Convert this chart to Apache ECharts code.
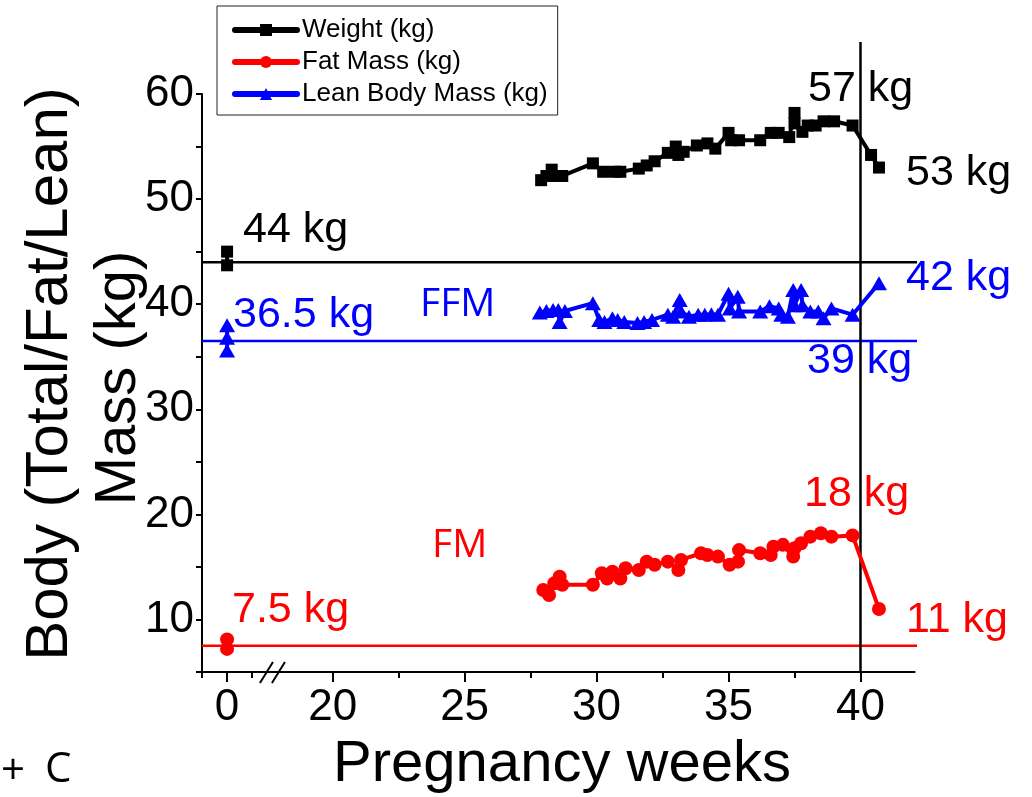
<!DOCTYPE html>
<html>
<head>
<meta charset="utf-8">
<title>Body mass during pregnancy</title>
<script src="https://cdn.jsdelivr.net/npm/echarts@6/dist/echarts.min.js"></script>
<style>
  html, body { margin: 0; padding: 0; background: #fff; }
  #chart { width: 1032px; height: 797px; }
</style>
</head>
<body>
<div id="chart"></div>
<script>
// ---- Data -------------------------------------------------------------
// Pre-pregnancy readings (week 0)
const weightWeek0 = [45.0, 43.7];
const fatWeek0 = [8.1, 7.2];
const leanWeek0 = [38.0, 36.8, 35.6];

// Pregnancy readings: Weight (kg)
const weightWeeks = [27.9, 28.1, 28.3, 28.5, 28.7, 29.86, 30.25, 30.7, 30.9, 31.6, 31.9, 32.2, 32.7, 33.0, 33.1, 33.3,
  33.8, 34.2, 34.5, 35.0, 35.1, 35.4, 36.2, 36.6, 36.9, 37.3, 37.5, 37.5, 37.8, 38.0, 38.3, 38.6, 39.0, 39.7, 40.4, 40.7];
const weightKg = [51.8, 52.2, 52.8, 52.2, 52.2, 53.4, 52.6, 52.6, 52.6, 52.9, 53.2, 53.6, 54.4, 55.0, 54.2, 54.5,
  55.1, 55.3, 54.8, 56.3, 55.6, 55.6, 55.6, 56.3, 56.3, 55.9, 58.2, 57.2, 56.4, 57.0, 57.0, 57.4, 57.4, 57, 54.2, 53];

// Pregnancy readings: Fat Mass (kg)
const fatWeeks = [27.98, 28.2, 28.4, 28.6, 28.7, 29.86, 30.2, 30.4, 30.6, 30.9, 31.1, 31.6, 31.9, 32.2, 32.7, 33.1, 33.2,
  33.96, 34.2, 34.6, 35.04, 35.36, 35.4, 36.2, 36.6, 36.7, 37.06, 37.45, 37.5, 37.75, 38.1, 38.5, 38.9, 39.7, 40.7];
const fatKg = [12.8, 12.33, 13.45, 14.07, 13.3, 13.3, 14.4, 13.9, 14.55, 13.9, 14.87, 14.7, 15.5, 15.2, 15.5, 14.7, 15.66,
  16.3, 16.14, 15.98, 15.2, 15.5, 16.6, 16.3, 16.14, 16.93, 17.1, 15.98, 16.77, 17.25, 17.88, 18.2, 17.88, 18, 11];

// Pregnancy readings: Lean Body Mass (kg)
const leanWeeks = [27.85, 28.1, 28.35, 28.55, 28.6, 28.8, 29.86, 30.1, 30.3, 30.6, 30.8, 31.05, 31.55, 31.8, 32.1, 32.7,
  32.9, 33.15, 33.2, 33.5, 33.85, 34.1, 34.35, 34.6, 35.0, 35.05, 35.35, 35.4, 36.2, 36.55, 36.9, 37.0, 37.25, 37.45,
  37.5, 37.75, 37.8, 38.1, 38.4, 38.6, 38.9, 39.7, 40.7];
const leanKg = [39.2, 39.35, 39.45, 39.45, 38.3, 39.35, 40.1, 38.5, 38.3, 38.65, 38.5, 38.3, 38.2, 38.3, 38.5, 39.0,
  38.8, 40.4, 39.3, 38.8, 39.0, 39.0, 39.05, 39.0, 41.0, 39.6, 40.7, 39.3, 39.3, 39.8, 39.6, 39.0, 38.8, 41.35,
  39.9, 41.35, 39.9, 39.3, 39.3, 38.65, 39.6, 39, 42];

// Pre-pregnancy reference levels (kg)
const baselineWeightKg = 44;
const baselineLeanKg = 36.5;
const baselineFatKg = 7.5;
const deliveryWeek = 40;

// Axis ticks (weeks)
const majorTickWeeks = [0, 20, 25, 30, 35, 40];
const minorTickWeeks = [-0.95, 0.95, 22.5, 27.5, 32.5, 37.5];

// Series names
const seriesNames = ['Weight (kg)', 'Fat Mass (kg)', 'Lean Body Mass (kg)'];

// ---- Broken x axis: weeks 1..19 are cut out, week 0 sits just left of the break
const ZERO_SHIFT = 16;           // week 0 is drawn at axis position 16
const X_MIN = 15.05, X_MAX = 42.05;
const BREAK_POS = 17.7;          // where the "//" mark sits
const Y_MIN = 5, Y_MAX = 60;
const toAxis = w => (w < 10 ? w + ZERO_SHIFT : w);

const FONT = '"Liberation Sans", Arial, sans-serif';
const FONT2 = '"Open Sans", "Noto Sans", sans-serif';
const BLACK = '#000000', RED = '#ff0000', BLUE = '#0000ff';

const pairs = (xs, ys) => xs.map((x, i) => [toAxis(x), ys[i]]);
const atWeek0 = ys => ys.map(y => [toAxis(0), y]);

function measureSeries(name, color, symbol, size, week0, weeks, values) {
  const base = {
    name, type: 'line', xAxisIndex: 0, yAxisIndex: 0,
    symbol, symbolSize: size, showSymbol: true, showAllSymbol: true,
    lineStyle: { color, width: 4, cap: 'round', join: 'round' },
    itemStyle: { color },
    z: 5, silent: true
  };
  return [
    Object.assign({}, base, { data: pairs(weeks, values) }),
    Object.assign({}, base, { data: atWeek0(week0) })
  ];
}

function refLine(value, endPos, color) {
  return {
    type: 'line', xAxisIndex: 0, yAxisIndex: 0, clip: false, silent: true,
    symbol: 'none', lineStyle: { color, width: 2.5 }, z: 3,
    data: [[X_MIN, value], [endPos, value]]
  };
}

const chart = echarts.init(document.getElementById('chart'), null, { renderer: 'canvas' });

function note(text, x, y, color, size, family) {
  return {
    type: 'text', x, y, silent: true, z: 20,
    style: { text, fill: color, font: `${size}px ${family || FONT}`, align: 'left', verticalAlign: 'middle' }
  };
}

const option = {
  animation: false,
  backgroundColor: '#ffffff',
  grid: { left: 202, right: 117.4, top: 94, bottom: 125, containLabel: false },
  legend: {
    data: seriesNames,
    orient: 'vertical',
    left: 217, top: 6,
    padding: [11, 10, 8, 15],
    itemGap: 6,
    itemWidth: 62, itemHeight: 15,
    borderColor: '#222', borderWidth: 1,
    textStyle: { fontFamily: FONT, fontSize: 26, color: BLACK },
    lineStyle: { width: 6, cap: 'round' },
    selectedMode: false
  },
  xAxis: [
    {
      type: 'value', min: X_MIN, max: X_MAX, position: 'bottom',
      axisLine: { show: true, onZero: false, lineStyle: { color: BLACK, width: 2 } },
      axisTick: { show: true, customValues: majorTickWeeks.map(toAxis), length: 10, lineStyle: { color: BLACK, width: 2 } },
      axisLabel: {
        show: true, customValues: majorTickWeeks.map(toAxis), margin: 14,
        fontFamily: FONT, fontSize: 44, color: BLACK,
        formatter: v => String(Math.round(v) === ZERO_SHIFT ? 0 : Math.round(v))
      },
      splitLine: { show: false }
    },
    {
      type: 'value', min: X_MIN, max: X_MAX, position: 'bottom',
      axisLine: { show: false, onZero: false },
      axisTick: { show: true, customValues: minorTickWeeks.map(w => (w < 10 ? w + ZERO_SHIFT : w)), length: 6, lineStyle: { color: BLACK, width: 2 } },
      axisLabel: { show: false },
      splitLine: { show: false }
    }
  ],
  yAxis: {
    type: 'value', min: Y_MIN, max: Y_MAX, interval: 5,
    axisLine: { show: true, onZero: false, lineStyle: { color: BLACK, width: 2 } },
    axisTick: { show: true, length: 6, lineStyle: { color: BLACK, width: 2 } },
    axisLabel: {
      margin: 8, fontFamily: FONT, fontSize: 44, color: BLACK,
      formatter: v => (v % 10 === 0 ? String(v) : '')
    },
    splitLine: { show: false }
  },
  series: [
    refLine(baselineWeightKg, 42.2, BLACK),
    refLine(baselineLeanKg, 42.35, BLUE),
    refLine(baselineFatKg, 42.56, RED),
    {
      type: 'line', xAxisIndex: 0, yAxisIndex: 0, clip: false, silent: true,
      symbol: 'none', lineStyle: { color: BLACK, width: 2.5 }, z: 3,
      data: [[deliveryWeek, Y_MIN], [deliveryWeek, 64.95]]
    },
    ...measureSeries(seriesNames[0], BLACK, 'rect', 12, weightWeek0, weightWeeks, weightKg),
    ...measureSeries(seriesNames[1], RED, 'circle', 14, fatWeek0, fatWeeks, fatKg),
    ...measureSeries(seriesNames[2], BLUE, 'triangle', [16, 14], leanWeek0, leanWeeks, leanKg),
    {
      // "//" break mark on the x axis
      type: 'custom', xAxisIndex: 0, yAxisIndex: 0, silent: true, clip: false, z: 10,
      data: [[BREAK_POS, Y_MIN]],
      renderItem: (params, api) => {
        const p = api.coord([api.value(0), api.value(1)]);
        const st = { stroke: BLACK, lineWidth: 2 };
        return {
          type: 'group',
          children: [
            { type: 'line', shape: { x1: p[0] - 12, y1: p[1] + 11, x2: p[0] + 1, y2: p[1] - 10 }, style: st },
            { type: 'line', shape: { x1: p[0], y1: p[1] + 11, x2: p[0] + 13, y2: p[1] - 10 }, style: st }
          ]
        };
      }
    }
  ],
  graphic: [
    {
      type: 'text', x: 50, y: 374, rotation: Math.PI / 2, silent: true,
      style: { text: 'Body (Total/Fat/Lean)', fill: BLACK, font: `60px ${FONT}`, align: 'center', verticalAlign: 'middle' }
    },
    {
      type: 'text', x: 119, y: 378, rotation: Math.PI / 2, silent: true,
      style: { text: 'Mass (kg)', fill: BLACK, font: `58px ${FONT}`, align: 'center', verticalAlign: 'middle' }
    },
    {
      type: 'text', x: 562, y: 765, silent: true,
      style: { text: 'Pregnancy weeks', fill: BLACK, font: `58px ${FONT}`, align: 'center', verticalAlign: 'middle' }
    },
    note('57 kg', 808, 89, BLACK, 43),
    note('53 kg', 906, 173, BLACK, 43),
    note('44 kg', 243, 230, BLACK, 43),
    note('36.5 kg', 233, 315, BLUE, 43),
    note('FFM', 420, 305, BLUE, 39, FONT2),
    note('42 kg', 906, 278, BLUE, 43),
    note('39 kg', 807, 361, BLUE, 43),
    note('18 kg', 804, 494, RED, 43),
    note('FM', 432, 546, RED, 39, FONT2),
    note('7.5 kg', 232, 610, RED, 43),
    note('11 kg', 906, 620, RED, 43),
    note('+', 1, 772, BLACK, 42, FONT2),
    note('C', 45, 770, BLACK, 42, FONT2)
  ]
};

chart.setOption(option);
</script>
</body>
</html>
